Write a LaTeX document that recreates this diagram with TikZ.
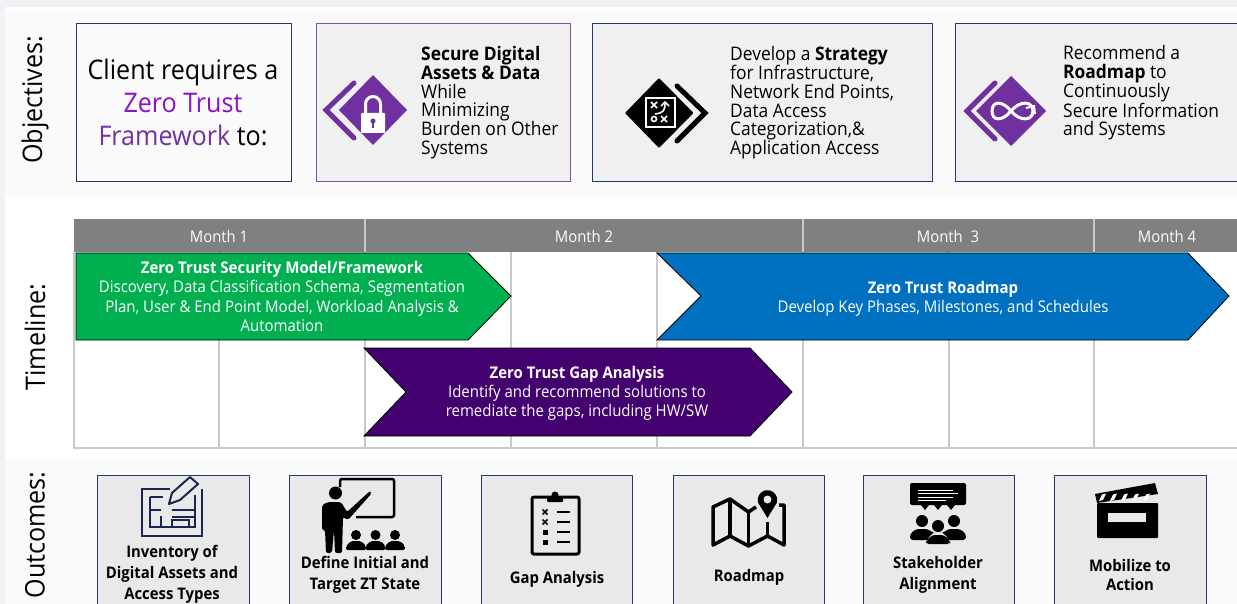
\documentclass[tikz,border=0pt]{standalone}
\usepackage{fontspec}
\setmainfont{Open Sans}[FakeStretch=0.93]
\usetikzlibrary{positioning}
\definecolor{navyline}{HTML}{1F3A73}
\definecolor{zpurple}{HTML}{7030A0}
\definecolor{zviolet}{HTML}{8A12C8}
\definecolor{zgreen}{HTML}{00B050}
\definecolor{zblue}{HTML}{0070C0}
\definecolor{zdark}{HTML}{43006F}
\definecolor{monthgrey}{HTML}{808080}
\definecolor{gridgrey}{HTML}{C9C9C9}
\definecolor{iconnavy}{HTML}{1A2550}
\tikzset{
  objbox/.style={draw=navyline, line width=1pt, fill=black!6, anchor=north west, inner sep=0pt},
  outbox/.style={draw=navyline, line width=1pt, fill=black!8.5, anchor=north west, inner sep=0pt, minimum height=140pt},
  section/.style={rotate=90, font=\fontsize{27}{27}\selectfont},
  objtext/.style={anchor=west, align=left, inner sep=0pt, font=\fontsize{18.7}{18.7}\selectfont},
  outtext/.style={align=center, inner sep=0pt, font=\fontsize{16}{21}\selectfont\bfseries},
  month/.style={text=white, inner sep=0pt, font=\fontsize{16}{16}\selectfont},
  bartext/.style={text=white, align=center, inner sep=0pt, font=\fontsize{16.1}{19.3}\selectfont},
  chevron/.style={line width=5pt, line cap=round, line join=miter},
  bar/.style={draw=black, line width=0.8pt}
}
\begin{document}
\begin{tikzpicture}[x=1pt, y=-1pt]
  \useasboundingbox (0,0) rectangle (1237,604);
  \clip (0,0) rectangle (1237,604);
  % panels
  \fill[blue!30!black!5] (0,0) rectangle (1237,604);
  \fill[white] (5,7) rectangle (1237,604);
  \fill[black!2] (5,12) rectangle (1237,196);
  \fill[black!2] (5,459) rectangle (1237,604);
  \node[section] (objlabel) at (35,100) {Objectives:};
  \node[section] (timelabel) at (35,337) {Timeline:};
  \node[section] (outlabel) at (35,535) {Outcomes:};
  % objectives
  \node[objbox, fill=black!2, minimum width=215pt, minimum height=158pt] (client) at (75.5,23) {};
  \node[objbox, draw=zpurple!85, minimum width=254pt, minimum height=158pt] (secure) at (315.5,23) {};
  \node[objbox, minimum width=340pt, minimum height=158pt] (strategy) at (592,23) {};
  \node[objbox, minimum width=300pt, minimum height=158pt] (roadmap) at (954.5,23) {};
  \node[align=center, inner sep=0pt, font=\fontsize{27}{33}\selectfont] (clienttext) at (183,102.5) {Client requires a\\\textcolor{zviolet}{Zero Trust}\\\textcolor{zpurple}{Framework} to:};
  \node[objtext] (securetext) at (421,102.5) {\textbf{Secure Digital}\\\textbf{Assets \& Data}\\While\\Minimizing\\Burden on Other\\Systems};
  \node[objtext] (strategytext) at (730,102.5) {Develop a \textbf{Strategy}\\for Infrastructure,\\Network End Points,\\Data Access\\Categorization,\&\\Application Access};
  \node[objtext] (roadmaptext) at (1063,93) {Recommend a\\\textbf{Roadmap} to\\Continuously\\Secure Information\\and Systems};
  % lock icon
  \fill[zpurple] (373,75) -- (407,110) -- (373,145) -- (339,110) -- cycle;
  \draw[chevron, zpurple] (354,83) -- (326,110) -- (354,138);
  \fill[white, rounded corners=1pt] (361,113) rectangle (385,133);
  \draw[white, line width=3pt] (365.5,114) -- (365.5,104) arc (180:360:7.5) -- (380.5,114);
  \fill[zpurple] (373,121) circle (2.5);
  \fill[zpurple] (372,121) rectangle (374,128);
  % strategy icon
  \fill[black, rounded corners=1pt] (659,78) -- (693.5,113) -- (659,148) -- (625,113) -- cycle;
  \draw[chevron, black] (677,86) -- (705,113) -- (677,141);
  \draw[white, line width=2pt] (646,98) rectangle (675,127);
  \draw[white, line width=1.6pt] (651,102) -- (657,108) (657,102) -- (651,108) (661,116) -- (667,122) (667,116) -- (661,122);
  \draw[white, line width=1.6pt] (654,119) circle (2.5);
  \draw[white, line width=1.6pt] (655,114) .. controls (664,113) and (665,110) .. (665,103) (661,106) -- (665,102) -- (669,106);
  % infinity icon
  \fill[zpurple] (1011,76) -- (1046,111) -- (1011,146) -- (976,111) -- cycle;
  \draw[chevron, zpurple] (995,83) -- (967,111) -- (995,139);
  \draw[white, line width=3pt] (1011,111) .. controls (1002,100) and (992,101) .. (992,111) .. controls (992,121) and (1002,122) .. (1011,111) .. controls (1020,100) and (1033,101) .. (1033,111) .. controls (1033,121) and (1020,122) .. (1011,111);
  \draw[white, line width=2pt] (1026,108) -- (1034,106) -- (1035,114);
  % timeline grid
  \foreach \x in {74,219,365,511,657,803,949,1094}
    \draw[gridgrey, line width=1.4pt] (\x,252) -- (\x,448);
  \draw[gridgrey, line width=1.4pt] (73,448) -- (1237,448);
  \fill[monthgrey] (74,219) rectangle (1237,252);
  \foreach \x in {365,803,1094}
    \draw[gridgrey, line width=1.2pt] (\x,219) -- (\x,252);
  \node[month] (m1) at (219,236.5) {Month 1};
  \node[month] (m2) at (584,236.5) {Month 2};
  \node[month] (m3) at (948,236.5) {Month\ \ 3};
  \node[month] (m4) at (1167,236.5) {Month 4};
  % bars
  \draw[bar, fill=zgreen] (76,253) -- (468,253) -- (511,296) -- (468,340) -- (76,340) -- cycle;
  \draw[bar, fill=zblue] (657,253) -- (1188,253) -- (1229,296) -- (1188,340) -- (657,340) -- (701,296) -- cycle;
  \draw[bar, fill=zdark] (364,348) -- (750,348) -- (792,392) -- (750,436) -- (364,436) -- (406,392) -- cycle;
  \node[bartext] (modeltext) at (282,296.5) {\textbf{Zero Trust Security Model/Framework}\\Discovery, Data Classification Schema, Segmentation\\Plan, User \& End Point Model, Workload Analysis \&\\Automation};
  \node[bartext] (roadtext) at (943,298.5) {\textbf{Zero Trust Roadmap}\\Develop Key Phases, Milestones, and Schedules};
  \node[bartext] (gaptext) at (577,393.5) {\textbf{Zero Trust Gap Analysis}\\Identify and recommend solutions to\\remediate the gaps, including HW/SW};
  % outcomes
  \foreach \x/\w/\name in {96.5/152/outa,288.5/152/outb,480.5/151/outc,672.5/151/outd,862.5/151/oute,1053.5/152/outf}
    \node[outbox, minimum width=\w pt] (\name) at (\x,475) {};
  \node[outtext] (outatext) at (172,574.5) {Inventory of\\Digital Assets and\\Access Types};
  \node[outtext] (outbtext) at (365,575) {Define Initial and\\Target ZT State};
  \node[outtext] (outctext) at (557,579.5) {Gap Analysis};
  \node[outtext] (outdtext) at (749,577.5) {Roadmap};
  \node[outtext] (outetext) at (938,575) {Stakeholder\\Alignment};
  \node[outtext] (outftext) at (1130,575) {Mobilize to\\[-2pt]Action};
  % plan icon
  \draw[iconnavy, line width=2pt] (170,489) -- (142,489) -- (142,536) -- (202,536) -- (202,489);
  \draw[iconnavy, line width=1.6pt] (150,497) -- (150,527) -- (195,527) -- (195,495) (150,497) -- (163,497) (150,510) -- (161,510) (172,510) -- (195,510) (172,517) -- (195,517) (161,527) -- (161,516) (172,527) -- (172,520) -- (189,520) -- (189,527);
  \draw[iconnavy, line width=2pt, fill=black!8.5, line join=round] (169,504) -- (172,493) -- (190,477) -- (198,484) -- (180,500) -- cycle;
  % teacher icon
  \draw[black, line width=2.5pt, rounded corners=2pt] (340,487) -- (340,479) -- (394,479) -- (394,517) -- (356,517);
  \fill[black] (335.5,493) circle (6.5);
  \fill[black, rounded corners=2pt] (322,530) -- (322,505) -- (328,502) -- (341,502) -- (347,512) -- (370,491) -- (372,493) -- (348,520) -- (343,517) -- (342,553) -- (335,553) -- (334,530) -- (332,553) -- (326,553) -- (325,530) -- cycle;
  \foreach \x in {356,375.5,395} {
    \fill[black] (\x,535) circle (5);
    \fill[black, rounded corners=2pt] (\x-10,550) -- (\x-10,546) -- (\x-5,541) -- (\x+5,541) -- (\x+10,546) -- (\x+10,550) -- cycle;
  }
  % clipboard icon
  \draw[black, line width=3pt, rounded corners=2pt] (532,497) rectangle (579,554);
  \fill[black, rounded corners=1pt] (547,497) rectangle (563,502);
  \fill[black] (555,495) circle (3.5);
  \foreach \y in {512,522,532,542}
    \draw[black, line width=2pt] (557,\y) -- (570,\y);
  \foreach \y in {512,522}
    \draw[black, line width=1.6pt] (542.5,\y-2.5) -- (547.5,\y+2.5) (547.5,\y-2.5) -- (542.5,\y+2.5);
  \foreach \y in {532,542}
    \fill[black] (542.5,\y-2.5) rectangle (547.5,\y+2.5);
  % map icon
  \draw[black, line width=3.5pt, line join=round] (756,507) -- (748.5,512) -- (730,499) -- (713,507) -- (713,545) -- (730,536) -- (748.5,546) -- (767.5,536) -- (784,545) -- (784,505) -- (779,505);
  \draw[black, line width=3.5pt] (730,499) -- (730,536) (748.5,512) -- (748.5,546) (767.5,522) -- (767.5,536);
  \fill[black] (767.5,518) -- (758,502.5) arc (165:375:9.8) -- cycle;
  \fill[black!8.5] (767.5,499.5) circle (4);
  % stakeholder icon
  \fill[black, rounded corners=2pt] (910,483) rectangle (966,505);
  \foreach \x in {925,938,951}
    \fill[black] (\x-4,505) -- (\x+4,505) -- (\x,510) -- cycle;
  \draw[white, line width=1pt] (918,490) -- (953,490) (918,493.5) -- (958,493.5) (918,497) -- (953,497) (918,500.5) -- (946,500.5);
  \foreach \x/\y in {922/521,954/521,938/526}
    \fill[black] (\x,\y) circle (6);
  \fill[black, rounded corners=3pt] (910,540) -- (910,534) -- (916,529) -- (928,529) -- (933,533) -- (943,533) -- (948,529) -- (960,529) -- (966,534) -- (966,540) -- cycle;
  \fill[black!8.5] (926,544) -- (929,537) -- (934,532.5) -- (942,532.5) -- (947,537) -- (950,544) -- cycle;
  \fill[black, rounded corners=3pt] (926,544) -- (926,541) -- (932,535) -- (944,535) -- (950,541) -- (950,544) -- cycle;
  % clapper icon
  \fill[black, rounded corners=1pt] (1097,503) rectangle (1158,538);
  \fill[black!8.5] (1108,513) rectangle (1146,522);
  \fill[black] (1095,494) -- (1155,483) -- (1158,494) -- (1097,503) -- cycle;
  \foreach \x in {1102,1113,1124,1135,1146}
    \fill[white] (\x,494.5) -- (\x+4,493.5) -- (\x+1,500) -- (\x-3,501) -- cycle;
\end{tikzpicture}
\end{document}
